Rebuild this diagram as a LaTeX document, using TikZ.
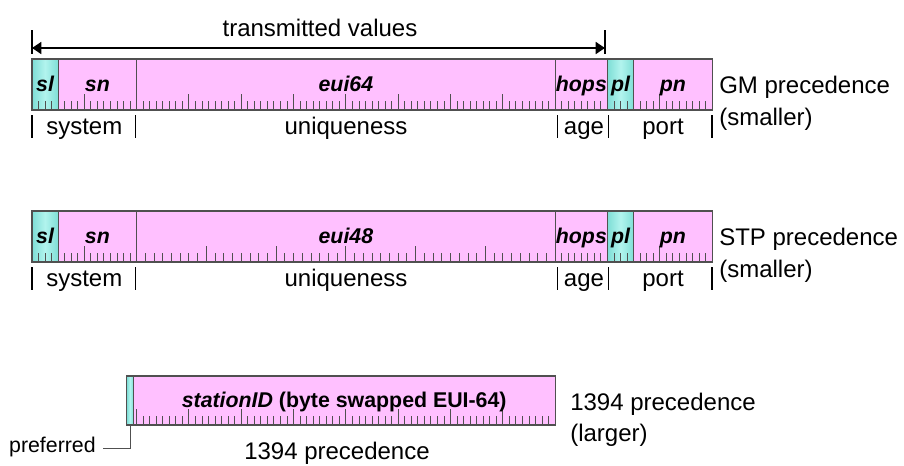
\documentclass[tikz,border=0pt]{standalone}
\usepackage{fontspec}
\setmainfont{Liberation Sans}
\usetikzlibrary{arrows.meta}

\definecolor{fieldpink}{RGB}{255,192,255}
\definecolor{slotedge}{RGB}{126,222,214}
\definecolor{slotmid}{RGB}{178,244,238}
\definecolor{rulegray}{RGB}{80,80,80}

% One row of the priority vector: sl | sn | identity | hops | pl | pn
% #1 node-name prefix, #2 identity field label, #3 bits in the identity field
\newcommand\fieldrow[3]{%
  \path[slot]  (32,59)     rectangle (58.16,110);
  \path[field] (58.16,59)  rectangle (136.64,110);
  \path[field] (136.64,59) rectangle (555.2,110);
  \path[field] (555.2,59)  rectangle (607.52,110);
  \path[slot]  (607.52,59) rectangle (633.68,110);
  \path[field] (633.68,59) rectangle (712.16,110);
  % bit ticks, longer at every octet
  \foreach \k in {0,...,16}{%
    \pgfmathsetmacro\tl{mod(\k,8)==0 ? 16 : 9.5}%
    \draw[tick] (32+6.54*\k,110) -- ++(0,-\tl);}
  \pgfmathsetmacro\bitw{418.56/#3}%
  \foreach \j in {0,...,#3}{%
    \pgfmathsetmacro\tl{mod(\j,8)==0 ? 16 : 9.5}%
    \draw[tick] (136.64+\bitw*\j,110) -- ++(0,-\tl);}
  \foreach \k in {80,...,104}{%
    \pgfmathsetmacro\tl{mod(\k,8)==0 ? 16 : 9.5}%
    \draw[tick] (32+6.54*\k,110) -- ++(0,-\tl);}
  % field names
  \node[flabel] (#1sl)   at (45.08,91)  {sl};
  \node[flabel] (#1sn)   at (97.4,91)   {sn};
  \node[flabel] (#1id)   at (345.9,91)  {#2};
  \node[flabel] (#1hops) at (581.4,91)  {hops};
  \node[flabel] (#1pl)   at (620.6,91)  {pl};
  \node[flabel] (#1pn)   at (672.9,91)  {pn};
  % roles of the field groups
  \node[txt] (#1sys)  at (84.3,134) {system};
  \node[txt] (#1uniq) at (346,134)  {uniqueness};
  \node[txt] (#1age)  at (584,134)  {age};
  \node[txt] (#1port) at (663,134)  {port};
  \foreach \bx in {32,135.5,557.5,608.5,712}{%
    \draw[sepbar] (\bx,115) -- (\bx,138);}
}

\begin{document}
\begin{tikzpicture}[
  x=0.75pt, y=-0.75pt,
  field/.style={draw=rulegray, line width=0.8pt, fill=fieldpink},
  slot/.style={draw=rulegray, line width=0.8pt,
    left color=slotedge, right color=slotedge, middle color=slotmid},
  tick/.style={draw=rulegray, line width=0.75pt},
  flabel/.style={font=\fontsize{16}{19}\selectfont\bfseries\itshape,
    inner sep=0pt, anchor=base},
  txt/.style={font=\fontsize{18}{21}\selectfont, inner sep=0pt, anchor=base},
  sidetxt/.style={txt, anchor=base west},
  smalltxt/.style={font=\fontsize{16}{19}\selectfont, inner sep=0pt},
  sepbar/.style={draw=black, line width=1.4pt},
  endbar/.style={draw=black, line width=1.5pt},
]
\useasboundingbox (0,0) rectangle (904,465);

% span of the transmitted fields
\node[txt] (tvtext) at (320,36) {transmitted values};
\coordinate (tvL) at (32,48);
\coordinate (tvR) at (605,48);
\draw[endbar] (32,30) -- (32,54);
\draw[endbar] (605,30) -- (605,54);
\draw[line width=1.3pt,
  {Triangle[length=7pt,width=9pt]}-{Triangle[length=7pt,width=9pt]}]
  (tvL) -- (tvR);

% GM priority vector
\fieldrow{gm}{eui64}{64}
\node[sidetxt] (gmname) at (719,93)  {GM precedence};
\node[sidetxt] (gmnote) at (719,125) {(smaller)};

% STP priority vector
\begin{scope}[shift={(0,152)}]
  \fieldrow{stp}{eui48}{48}
  \node[sidetxt] (stpname) at (719,93)  {STP precedence};
  \node[sidetxt] (stpnote) at (719,125) {(smaller)};
\end{scope}

% 1394 station identifier
\path[slot]  (126.8,376) rectangle (133.3,425);
\path[field] (133.3,376) rectangle (555.2,425);
\foreach \j in {0,...,64}{%
  \pgfmathsetmacro\tl{mod(\j,8)==0 ? 16 : 9.5}%
  \draw[tick] (136.64+6.54*\j,425) -- ++(0,-\tl);}
\node[flabel] (stationid) at (344.2,407)
  {\textit{stationID} \textup{(byte swapped EUI-64)}};
\node[sidetxt] (fwname) at (570,410) {1394 precedence};
\node[sidetxt] (fwnote) at (570,441) {(larger)};
\node[txt] (fwbelow) at (337,459) {1394 precedence};

% preferred bit callout
\coordinate (preftap) at (130,425);
\node[smalltxt, anchor=base east] (pref) at (96,452) {preferred};
\draw[rulegray, line width=0.75pt]
  (preftap) |- ([xshift=5.25pt]pref.mid east);
\end{tikzpicture}
\end{document}
